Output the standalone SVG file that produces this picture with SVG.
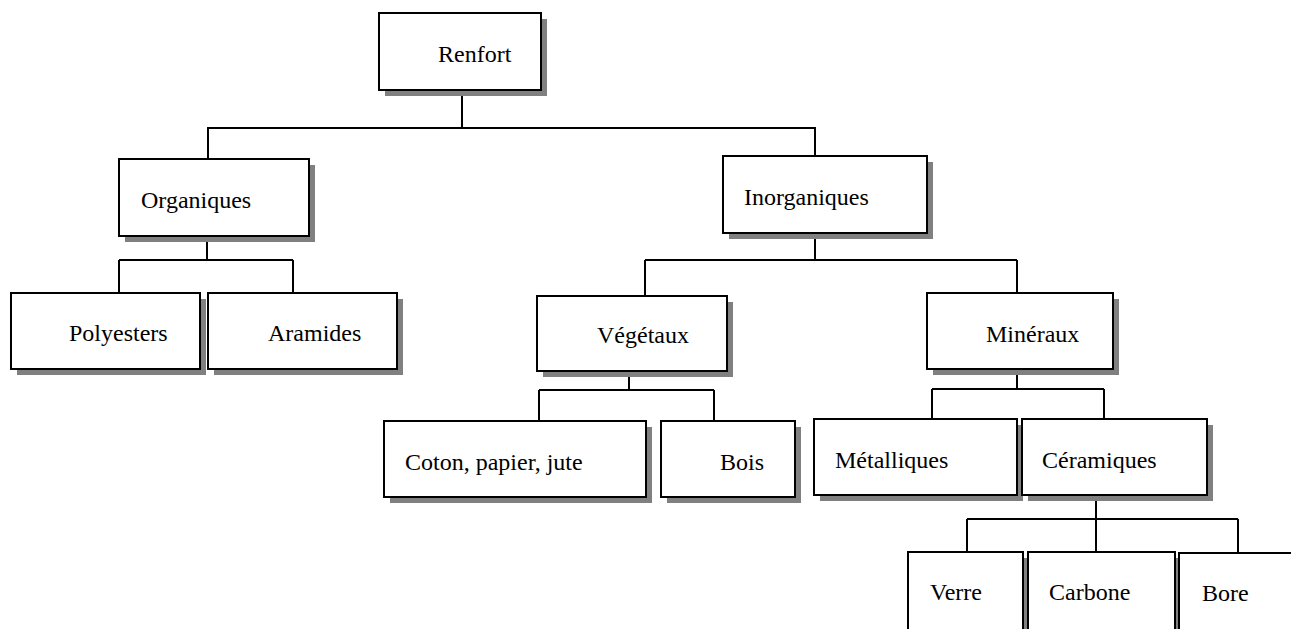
<svg xmlns="http://www.w3.org/2000/svg" width="1291" height="629" viewBox="0 0 1291 629">
  <style>
    .shadow { fill: #808080; stroke: none; }
    .box { fill: #ffffff; stroke: #000000; stroke-width: 2; }
    .label { font-family: "Liberation Serif", "Times New Roman", serif; font-size: 24px; fill: #000000; }
    .link { fill: none; stroke: #000000; stroke-width: 2; }
  </style>
  <rect width="1291" height="629" fill="#ffffff"/>

  <!-- connectors -->
  <g id="connectors">
    <!-- Renfort -->
    <path class="link" d="M462 90 V128 M207 128 H816 M208 128 V159 M815 128 V156"/>
    <!-- Organiques -->
    <path class="link" d="M207 236 V260 M119 260 H293 M119 260 V293 M293 260 V293"/>
    <!-- Inorganiques -->
    <path class="link" d="M815 233 V260 M645 260 H1017 M645 260 V296 M1017 260 V293"/>
    <!-- Végétaux -->
    <path class="link" d="M629 371 V390 M539 390 H714 M539 390 V421 M714 390 V421"/>
    <!-- Minéraux -->
    <path class="link" d="M1017 369 V389 M932 389 H1104 M932 389 V419 M1104 389 V419"/>
    <!-- Céramiques -->
    <path class="link" d="M1096 495 V552 M967 519 H1238 M967 519 V552 M1238 519 V553"/>
  </g>

  <g id="renfort">
    <rect class="shadow" x="385" y="19" width="162" height="77"/>
    <rect class="box" x="379" y="13" width="162" height="77"/>
    <text class="label" x="438" y="62">Renfort</text>
  </g>

  <g id="organiques">
    <rect class="shadow" x="125" y="165" width="190" height="77"/>
    <rect class="box" x="119" y="159" width="190" height="77"/>
    <text class="label" x="141" y="208">Organiques</text>
  </g>

  <g id="inorganiques">
    <rect class="shadow" x="729" y="162" width="204" height="77"/>
    <rect class="box" x="723" y="156" width="204" height="77"/>
    <text class="label" x="744" y="205">Inorganiques</text>
  </g>

  <g id="polyesters">
    <rect class="shadow" x="17" y="299" width="189" height="76"/>
    <rect class="box" x="11" y="293" width="189" height="76"/>
    <text class="label" x="69" y="341">Polyesters</text>
  </g>

  <g id="aramides">
    <rect class="shadow" x="214" y="299" width="189" height="76"/>
    <rect class="box" x="208" y="293" width="189" height="76"/>
    <text class="label" x="268" y="341">Aramides</text>
  </g>

  <g id="vegetaux">
    <rect class="shadow" x="543" y="302" width="190" height="75"/>
    <rect class="box" x="537" y="296" width="190" height="75"/>
    <text class="label" x="597" y="343">Végétaux</text>
  </g>

  <g id="mineraux">
    <rect class="shadow" x="933" y="299" width="186" height="76"/>
    <rect class="box" x="927" y="293" width="186" height="76"/>
    <text class="label" x="986" y="342">Minéraux</text>
  </g>

  <g id="coton">
    <rect class="shadow" x="390" y="427" width="262" height="76"/>
    <rect class="box" x="384" y="421" width="262" height="76"/>
    <text class="label" x="405" y="470">Coton, papier, jute</text>
  </g>

  <g id="bois">
    <rect class="shadow" x="667" y="427" width="134" height="76"/>
    <rect class="box" x="661" y="421" width="134" height="76"/>
    <text class="label" x="720" y="470">Bois</text>
  </g>

  <g id="metalliques">
    <rect class="shadow" x="820" y="425" width="203" height="76"/>
    <rect class="box" x="814" y="419" width="203" height="76"/>
    <text class="label" x="835" y="468">Métalliques</text>
  </g>

  <g id="ceramiques">
    <rect class="shadow" x="1028" y="425" width="185" height="76"/>
    <rect class="box" x="1022" y="419" width="185" height="76"/>
    <text class="label" x="1042" y="468">Céramiques</text>
  </g>

  <g id="verre">
    <rect class="shadow" x="914" y="558" width="115" height="90"/>
    <rect class="box" x="908" y="552" width="115" height="90"/>
    <text class="label" x="930" y="600">Verre</text>
  </g>

  <g id="carbone">
    <rect class="shadow" x="1034" y="558" width="147" height="90"/>
    <rect class="box" x="1028" y="552" width="147" height="90"/>
    <text class="label" x="1049" y="600">Carbone</text>
  </g>

  <g id="bore">
    <rect class="shadow" x="1185" y="559" width="130" height="90"/>
    <rect class="box" x="1179" y="553" width="130" height="90"/>
    <text class="label" x="1202" y="601">Bore</text>
  </g>
</svg>
